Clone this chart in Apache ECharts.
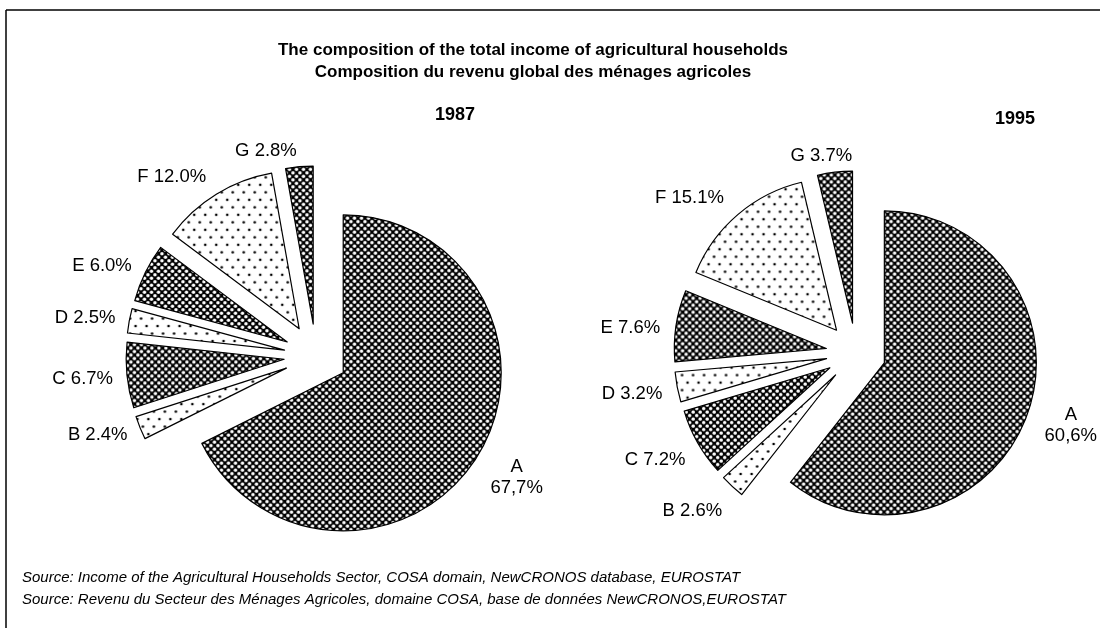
<!DOCTYPE html>
<html>
<head>
<meta charset="utf-8">
<script src="https://cdn.jsdelivr.net/npm/echarts@6/dist/echarts.min.js"></script>
<style>
html, body { margin: 0; padding: 0; background: #fff; }
#main { width: 1100px; height: 628px; }
</style>
</head>
<body>
<div id="main"></div>
<script>
// data
var categories = ['A', 'B', 'C', 'D', 'E', 'F', 'G'];
var values1987 = [67.7, 2.4, 6.7, 2.5, 6.0, 12.0, 2.8];
var values1995 = [60.6, 2.6, 7.2, 3.2, 7.6, 15.1, 3.7];
var years = ['1987', '1995'];
// which slices get the dark checker fill (the rest are dotted)
var darkSlices = ['A', 'C', 'E', 'G'];

// small label nudges [dx, dy] per slice, A is handled separately
var nudge1987 = [[0, 0], [-2, 5], [-3, 3], [-3, -2], [-3, -4], [-2, -12], [3, -10]];
var nudge1995 = [[0, 0], [-1, 20], [-2, 14], [-4, 6], [-5, 3], [-5, -12], [23, -10]];

var FONT = '"Liberation Sans", Arial, sans-serif';

// checkered fill: black with white round holes
function checkerPattern() {
	var c = document.createElement('canvas');
	c.width = 7; c.height = 7;
	var g = c.getContext('2d');
	g.fillStyle = '#000';
	g.fillRect(0, 0, 7, 7);
	g.fillStyle = '#fff';
	g.beginPath(); g.arc(1.75, 1.75, 1.75, 0, Math.PI * 2); g.fill();
	g.beginPath(); g.arc(5.25, 5.25, 1.75, 0, Math.PI * 2); g.fill();
	return c;
}
// sparse dots on white
function dotPattern() {
	var c = document.createElement('canvas');
	c.width = 11; c.height = 15;
	var g = c.getContext('2d');
	g.fillStyle = '#fff';
	g.fillRect(0, 0, 11, 15);
	g.fillStyle = '#000';
	g.beginPath(); g.arc(2, 2, 1.3, 0, Math.PI * 2); g.fill();
	g.beginPath(); g.arc(7.5, 9.5, 1.3, 0, Math.PI * 2); g.fill();
	return c;
}
var darkFill = { image: checkerPattern(), repeat: 'repeat' };
var lightFill = { image: dotPattern(), repeat: 'repeat' };

function buildData(vals) {
	var out = [];
	for (var i = 0; i < categories.length; i++) {
		var item = {
			name: categories[i],
			value: vals[i],
			selected: true,
			itemStyle: { color: darkSlices.indexOf(categories[i]) >= 0 ? darkFill : lightFill }
		};
		if (i === 0) item.labelLine = { show: false, length: 40, length2: 0 };
		out.push(item);
	}
	return out;
}

function labelText(p) {
	if (p.dataIndex === 0) {
		return p.name + '\n' + p.value.toFixed(1).replace('.', ',') + '%';
	}
	return p.name + ' ' + p.value.toFixed(1) + '%';
}

function pieSeries(vals, center, r, offset, nudge) {
	return {
		type: 'pie',
		center: center,
		radius: r,
		startAngle: 90,
		clockwise: true,
		selectedMode: 'multiple',
		selectedOffset: offset,
		avoidLabelOverlap: false,
		animation: false,
		emphasis: { disabled: true },
		itemStyle: { borderColor: '#000', borderWidth: 1.2 },
		label: {
			show: true,
			position: 'outside',
			formatter: labelText,
			color: '#000',
			fontFamily: FONT,
			fontSize: 18.5,
			lineHeight: 21
		},
		labelLine: { show: false, length: 6, length2: 0 },
		labelLayout: function (p) {
			if (p.dataIndex === 0) return { align: 'center', verticalAlign: 'middle' };
			return { dx: nudge[p.dataIndex][0], dy: nudge[p.dataIndex][1] };
		},
		data: buildData(vals)
	};
}

var chart = echarts.init(document.getElementById('main'));
var option = {
	backgroundColor: '#fff',
	animation: false,
	graphic: [
		{ type: 'line', shape: { x1: 6, y1: 10, x2: 1100, y2: 10 }, style: { stroke: '#000', lineWidth: 1.5 } },
		{ type: 'line', shape: { x1: 6, y1: 10, x2: 6, y2: 628 }, style: { stroke: '#000', lineWidth: 1.5 } },
		{ type: 'text', x: 533, y: 42, style: { text: 'The composition of the total income of agricultural households', fill: '#000', font: 'bold 17px ' + FONT, textAlign: 'center' } },
		{ type: 'text', x: 533, y: 64, style: { text: 'Composition du revenu global des ménages agricoles', fill: '#000', font: 'bold 17px ' + FONT, textAlign: 'center' } },
		{ type: 'text', x: 455, y: 106, style: { text: years[0], fill: '#000', font: 'bold 18px ' + FONT, textAlign: 'center' } },
		{ type: 'text', x: 1015, y: 110, style: { text: years[1], fill: '#000', font: 'bold 18px ' + FONT, textAlign: 'center' } },
		{ type: 'text', x: 22, y: 570, style: { text: 'Source: Income of the Agricultural Households Sector, COSA domain, NewCRONOS database, EUROSTAT', fill: '#000', font: 'italic 15px ' + FONT } },
		{ type: 'text', x: 22, y: 592, style: { text: 'Source: Revenu du Secteur des Ménages Agricoles, domaine COSA, base de données NewCRONOS,EUROSTAT', fill: '#000', font: 'italic 15px ' + FONT } }
	],
	series: [
		pieSeries(values1987, [316, 356], 158, 32, nudge1987),
		pieSeries(values1995, [856, 353], 152, 30, nudge1995)
	]
};
chart.setOption(option);
</script>
</body>
</html>
